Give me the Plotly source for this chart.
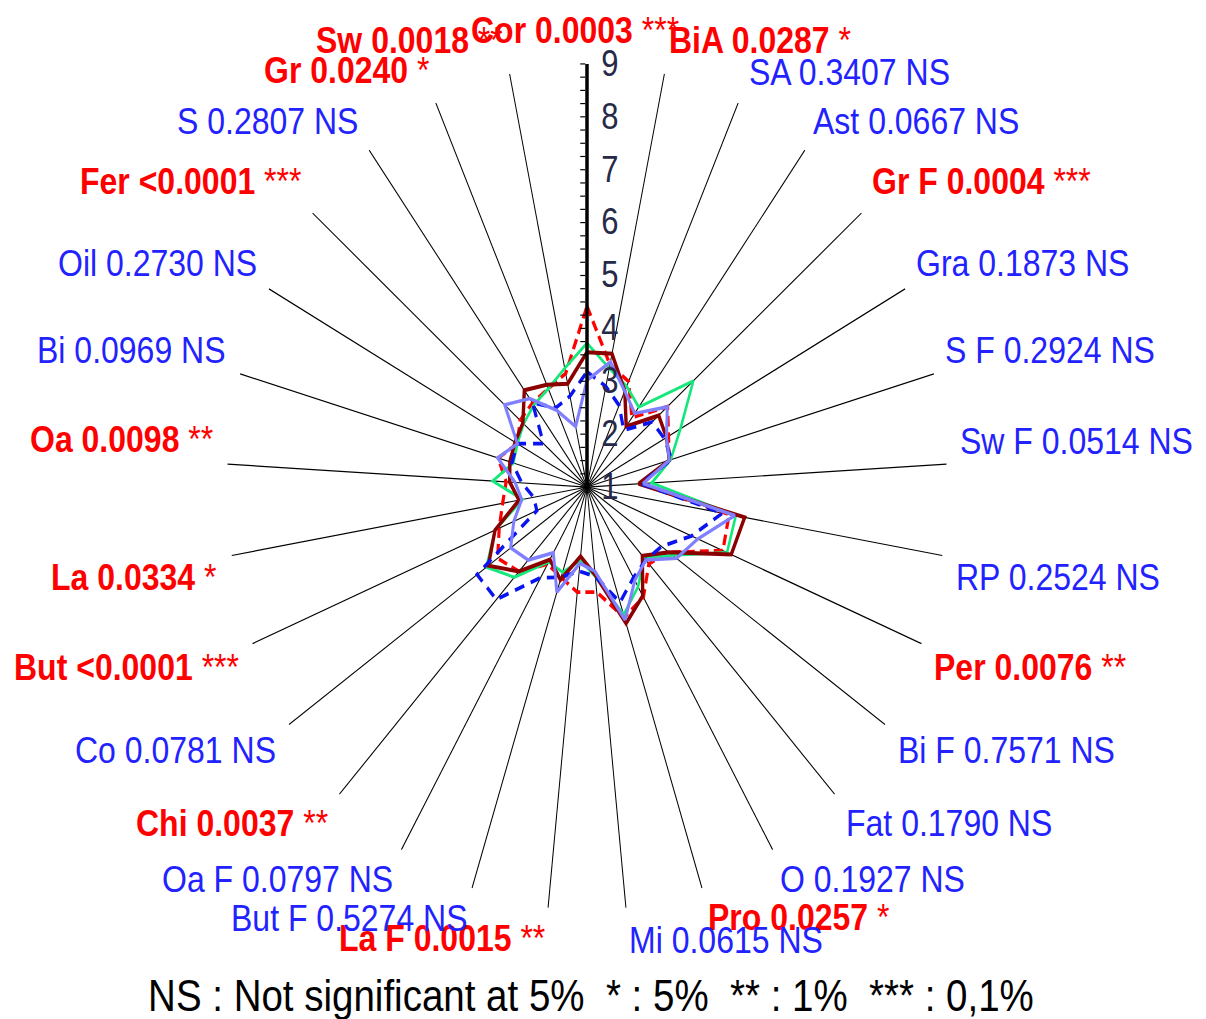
import plotly.graph_objects as go

# ---- data ------------------------------------------------------------------
attributes = ["Cor", "BiA", "SA", "Ast", "Gr F", "Gra", "S F", "Sw F", "RP", "Per",
              "Bi F", "Fat", "O", "Pro", "Mi", "La F", "But F", "Oa F", "Chi", "Co",
              "But", "La", "Oa", "Bi", "Oil", "Fer", "S", "Gr", "Sw"]
p_values = ["0.0003", "0.0287", "0.3407", "0.0667", "0.0004", "0.1873", "0.2924",
            "0.0514", "0.2524", "0.0076", "0.7571", "0.1790", "0.1927", "0.0257",
            "0.0615", "0.0015", "0.5274", "0.0797", "0.0037", "0.0781", "<0.0001",
            "0.0334", "0.0098", "0.0969", "0.2730", "<0.0001", "0.2807", "0.0240",
            "0.0018"]
significance = ["***", "*", "NS", "NS", "***", "NS", "NS", "NS", "NS", "**",
                "NS", "NS", "NS", "*", "NS", "**", "NS", "NS", "**", "NS",
                "***", "*", "**", "NS", "NS", "***", "NS", "*", "**"]

product_1 = [4.42, 3.37, 3.20, 2.65, 3.35, 3.05, 2.90, 2.20, 4.20, 4.25,
             3.20, 3.00, 3.43, 3.60, 3.00, 3.00, 2.80, 2.70, 3.20, 3.40,
             3.10, 2.90, 2.80, 3.05, 2.75, 2.95, 3.00, 3.05, 3.20]
product_2 = [3.72, 3.30, 3.10, 2.90, 4.10, 3.35, 2.93, 2.44, 4.35, 4.35,
             3.30, 2.85, 3.20, 3.55, 2.70, 2.40, 2.70, 2.65, 3.35, 3.70,
             3.20, 2.45, 3.10, 2.70, 2.75, 2.85, 2.95, 3.05, 3.30]
product_3 = [3.55, 3.58, 3.00, 2.44, 3.09, 3.00, 2.90, 2.15, 4.55, 4.45,
             3.20, 2.79, 3.40, 3.72, 2.67, 2.32, 2.85, 2.60, 3.20, 3.65,
             3.20, 2.53, 2.72, 2.78, 2.81, 2.87, 3.30, 3.13, 3.00]
product_4 = [3.18, 2.95, 2.70, 2.35, 2.90, 2.95, 2.95, 2.20, 4.05, 3.50,
             3.00, 2.90, 3.00, 3.30, 2.70, 2.60, 2.80, 3.00, 3.93, 3.95,
             2.20, 2.20, 2.45, 2.73, 2.75, 2.27, 3.00, 2.65, 2.76]
product_5 = [3.02, 3.42, 3.00, 2.75, 3.34, 3.00, 2.90, 2.25, 4.33, 3.65,
             3.40, 2.90, 3.06, 3.65, 2.60, 2.45, 3.10, 2.45, 2.90, 3.05,
             2.75, 2.47, 2.60, 3.06, 2.75, 3.40, 3.10, 2.60, 2.17]

scale_ticks = [1, 2, 3, 4, 5, 6, 7, 8, 9]
footer = "NS : Not significant at 5%\u00a0 * : 5%\u00a0 ** : 1%\u00a0 *** : 0,1%"

# ---- page geometry ---------------------------------------------------------
PAGE_W, PAGE_H = 1206, 1019
STRETCH = 1.1753                      # vertical stretch applied to the whole chart
BASE_H = round(PAGE_H / STRETCH)      # drawing height before the stretch
CX, CY, RADIUS = 587, 414.4, 360      # star centre and radius, in pixels

FONT = "Liberation Sans, Arial, sans-serif"

series_styles = [
    dict(data=product_1, color="#ff0000", width=3.2, dash="9px,5px"),
    dict(data=product_2, color="#14e87a", width=2.6, dash="solid"),
    dict(data=product_3, color="#8b0000", width=3.4, dash="solid"),
    dict(data=product_4, color="#0a14f0", width=3.2, dash="10px,7px"),
    dict(data=product_5, color="#8080ff", width=3.0, dash="solid"),
]

fig = go.Figure()
for i, s in enumerate(series_styles):
    fig.add_trace(go.Scatterpolar(
        r=s["data"] + s["data"][:1],
        theta=attributes + attributes[:1],
        mode="lines",
        line=dict(color=s["color"], width=s["width"], dash=s["dash"]),
        name=f"product {i + 1}",
        showlegend=False,
        hoverinfo="skip",
    ))

# ---- attribute labels around the star ---------------------------------------
# label centres (x, y) in page pixels of the stretched page
label_pos = [(575, 30), (760, 40), (849, 72), (916, 121), (981, 181), (1022, 263),
             (1050, 350), (1076, 441), (1058, 577), (1030, 668), (1006, 750),
             (949, 823), (872, 879), (798, 917), (726, 940), (442, 938), (349, 918),
             (277, 879), (232, 823), (175, 750), (126, 668), (133, 577), (121, 440),
             (131, 350), (157, 263), (191, 181), (267, 121), (346, 70), (409, 40)]

for name, p, sig, (lx, ly) in zip(attributes, p_values, significance, label_pos):
    if sig == "NS":
        text = f"{name} {p} NS"
        color = "#2222ff"
    else:
        text = f"<b>{name} {p}</b> {sig}"
        color = "#ff0000"
    fig.add_annotation(
        x=lx / PAGE_W, y=1 - (ly / STRETCH) / BASE_H,
        xref="paper", yref="paper", xanchor="center", yanchor="middle",
        text=text, showarrow=False,
        font=dict(family=FONT, size=32, color=color),
    )

fig.add_annotation(
    x=591 / PAGE_W, y=1 - (995 / STRETCH) / BASE_H,
    xref="paper", yref="paper", xanchor="center", yanchor="middle",
    text=footer, showarrow=False,
    font=dict(family=FONT, size=38.5, color="#000000"),
)

minor_vals = [v / 4 for v in range(4, 37)]
fig.update_layout(
    width=PAGE_W, height=BASE_H,
    margin=dict(l=0, r=0, t=0, b=0, pad=0),
    paper_bgcolor="white",
    font=dict(family=FONT),
    polar=dict(
        domain=dict(x=[(CX - RADIUS) / PAGE_W, (CX + RADIUS) / PAGE_W],
                    y=[1 - (CY + RADIUS) / BASE_H, 1 - (CY - RADIUS) / BASE_H]),
        bgcolor="rgba(0,0,0,0)",
        angularaxis=dict(
            categoryorder="array", categoryarray=attributes,
            rotation=90, direction="clockwise",
            showgrid=True, gridcolor="#000000", gridwidth=1.2,
            showline=False, showticklabels=False, ticks="",
        ),
        radialaxis=dict(
            range=[1, 9], angle=90, side="clockwise",
            showgrid=False, showline=True, linecolor="#000000", linewidth=3.5,
            tickmode="array", tickvals=minor_vals,
            ticktext=["\u2009" + str(int(v)) if v in scale_ticks else "" for v in minor_vals],
            ticks="inside", ticklen=5, tickwidth=1.2, tickcolor="#000000",
            tickangle=90,
            tickfont=dict(family=FONT, size=31, color="#262a48"),
            layer="above traces",
        ),
    ),
)

post = (
    "document.body.style.margin='0';"
    "var gd=document.getElementById('{plot_id}');"
    "gd.style.transformOrigin='0 0';"
    f"gd.style.transform='scaleY({STRETCH})';"
)
fig.write_html("out.html", post_script=post, config={"displayModeBar": False})
